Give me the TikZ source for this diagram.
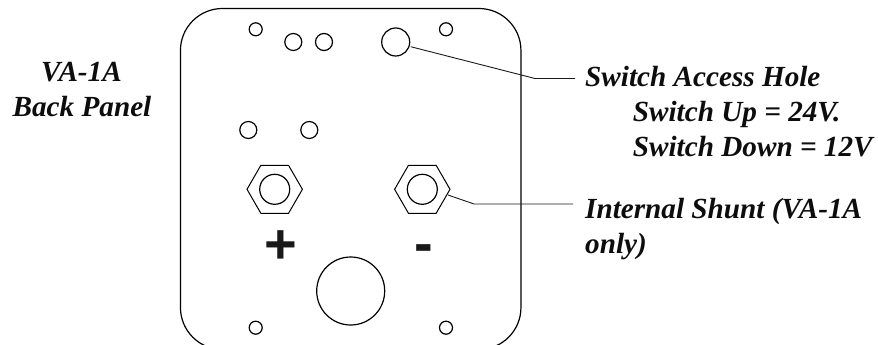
\documentclass[tikz,border=0pt]{standalone}
\usepackage{fontspec}
\setmainfont{Liberation Serif}
\newfontfamily\signfont{Liberation Sans}
\usetikzlibrary{shapes.geometric}
\tikzset{
  x=1pt,y=-1pt,
  panel/.style={draw=black,line width=1.2pt,rectangle,rounded corners=42pt,minimum width=340.5pt,minimum height=341pt,inner sep=0pt},
  hole/.style={draw=black,line width=1.2pt,circle,inner sep=0pt,minimum size=#1},
  hexnut/.style={draw=black,line width=1pt,regular polygon,regular polygon sides=6,inner sep=0pt,minimum size=55.4pt},
  leader/.style={draw=black!90,line width=0.9pt},
  lbl/.style={font=\fontsize{29.2}{35}\selectfont\bfseries\itshape,inner sep=0pt,anchor=base west,text=black!95},
  sign/.style={font=\fontsize{56}{56}\selectfont\signfont\bfseries,inner sep=0pt,text=black!90}
}
\begin{document}
\begin{tikzpicture}
\useasboundingbox (0,0) rectangle (878,345);
\clip (0,0) rectangle (878,345);
\node[panel] (pnl) at (350.7,179) {};
\node[hole=13pt] (h1) at (255.7,29.3) {};
\node[hole=13pt] (h2) at (446,29.3) {};
\node[hole=17pt] (h3) at (293.3,42) {};
\node[hole=17pt] (h4) at (324,42) {};
\node[hole=28pt] (sw) at (395.7,42) {};
\node[hole=17pt] (h5) at (248.3,130) {};
\node[hole=17pt] (h6) at (309.3,130) {};
\node[hexnut] (nutA) at (274.7,189.3) {};
\node[hole=30pt] (nutAi) at (274.7,189.3) {};
\node[hexnut] (nutB) at (422.3,189.3) {};
\node[hole=30pt] (nutBi) at (422.3,189.3) {};
\node[sign] (plus) at (281.3,247.5) {+};
\node[sign] (minus) at (423.5,254) {-};
\node[hole=68pt] (big) at (350.7,291) {};
\node[hole=13pt] (h7) at (255.7,327.7) {};
\node[hole=13pt] (h8) at (446,327.7) {};
\node[lbl] (l1) at (585,86) {Switch Access Hole};
\node[lbl] (l2) at (632.7,121.7) {Switch Up = 24V.};
\node[lbl] (l3) at (632.7,156.7) {Switch Down = 12V};
\node[lbl] (l4) at (585,218) {Internal Shunt (VA-1A};
\node[lbl] (l5) at (585,253) {only)};
\node[lbl,anchor=base] (t1) at (81.5,81.7) {VA-1A};
\node[lbl,anchor=base] (t2) at (82,116) {Back Panel};
\coordinate (k1) at (535,78.5);
\coordinate (e1) at (575,78.5);
\coordinate (k2) at (474,204);
\coordinate (e2) at (573,204);
\path (sw) ++(15,4.7) coordinate (s1);
\draw[leader] (s1) -- (k1) -- (e1);
\path (nutB) ++(25.7,5.7) coordinate (s2);
\draw[leader] (s2) -- (k2) -- (e2);
\end{tikzpicture}
\end{document}
